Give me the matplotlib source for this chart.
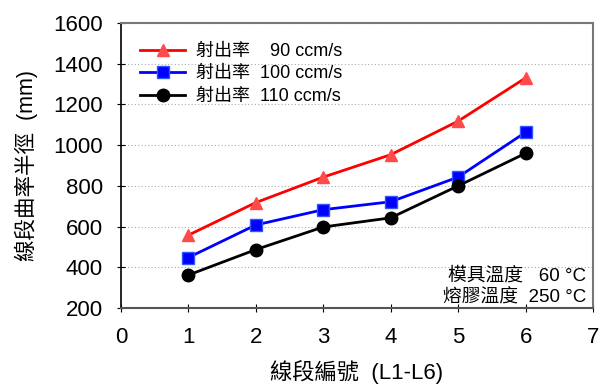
import matplotlib
matplotlib.use("Agg")
import matplotlib.pyplot as plt

segments = [1, 2, 3, 4, 5, 6]
radius_90 = [558, 718, 843, 953, 1118, 1330]
radius_100 = [448, 608, 683, 722, 843, 1063]
radius_110 = [362, 487, 598, 643, 800, 960]
labels = ["射出率    90 ccm/s", "射出率  100 ccm/s", "射出率  110 ccm/s"]
notes = ["模具溫度   60 °C", "熔膠溫度  250 °C"]

plt.rcParams["font.family"] = ["Liberation Sans", "Noto Sans CJK TC", "DejaVu Sans"]

fig = plt.figure(figsize=(6, 3.9), dpi=100)
ax = fig.add_axes([121 / 600, 1 - 308 / 390, 472 / 600, 285 / 390])

ax.plot(segments, radius_90, color="#ff0000", lw=2, marker="^", ms=9,
        mfc="#ff4a4a", mec="#ff4a4a", label=labels[0])
ax.plot(segments, radius_100, color="#0000ff", lw=2, marker="s", ms=8,
        mfc="#0000ff", mec="#3355ff", label=labels[1])
ax.plot(segments, radius_110, color="black", lw=2, marker="o", ms=9,
        label=labels[2])

ax.set_xlim(0, 7)
ax.set_ylim(200, 1600)
ax.set_xticks(range(0, 8))
ax.set_yticks(range(200, 1601, 200))
ax.yaxis.grid(True, linestyle=(0, (1, 2)), color="#aaaaaa", lw=0.8)
ax.set_axisbelow(True)

ax.tick_params(direction="inout", length=6, labelsize=16)
ax.tick_params(axis="y", pad=10)
ax.tick_params(axis="x", pad=11)
for side in ["top", "right"]:
    ax.spines[side].set_color("#777777")
    ax.spines[side].set_linewidth(1.5)
ax.spines["bottom"].set_color("#555555")
ax.spines["bottom"].set_linewidth(1.5)
ax.spines["left"].set_linewidth(1.2)

ax.set_xlabel("線段編號  (L1-L6)", fontsize=16, labelpad=8)
ax.set_ylabel("線段曲率半徑  (mm)", fontsize=15.5, labelpad=11)

ax.legend(loc="upper left", frameon=False, fontsize=13, handlelength=2.5,
          handletextpad=0.6, labelspacing=0.3, borderaxespad=0,
          bbox_to_anchor=(0.025, 0.955))

ax.text(0.985, 0.115, notes[0], transform=ax.transAxes, ha="right",
        va="center", fontsize=13.5)
ax.text(0.985, 0.035, notes[1], transform=ax.transAxes, ha="right",
        va="center", fontsize=13.5)

fig.savefig("out.png", dpi=100)
